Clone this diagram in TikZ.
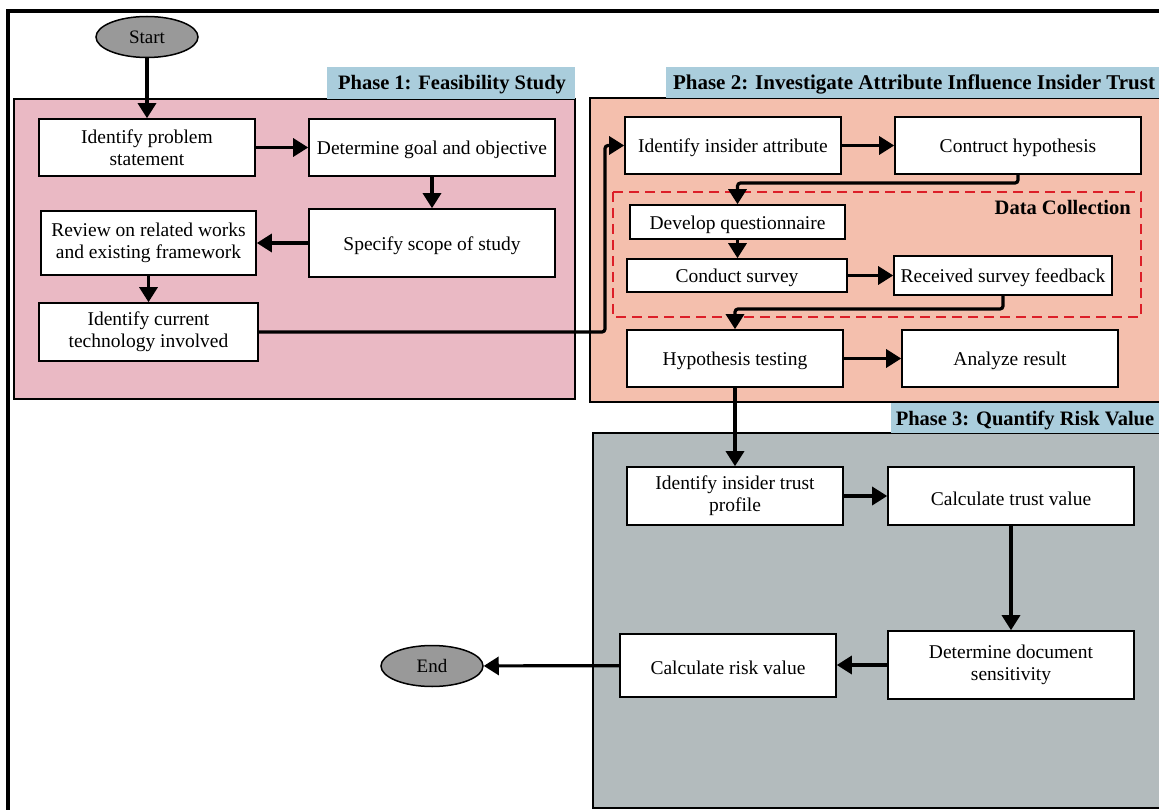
\documentclass[tikz,border=0pt]{standalone}
\usepackage{fontspec}
\setmainfont{Liberation Serif}
\usetikzlibrary{arrows.meta,shapes.geometric}
\definecolor{pinkbg}{RGB}{234,185,196}
\definecolor{salmonbg}{RGB}{244,191,173}
\definecolor{greybg}{RGB}{179,187,189}
\definecolor{hdrblue}{RGB}{170,205,220}
\definecolor{ovalgray}{RGB}{153,153,153}
\definecolor{dashred}{RGB}{220,30,40}
\tikzset{
  box/.style={draw, line width=1.6pt, fill=white, align=center, inner sep=2pt,
    font=\fontsize{19.5}{22}\selectfont,
    execute at begin node={\rule{0pt}{18.5pt}}},
  oval/.style={ellipse, draw, line width=1.5pt, fill=ovalgray, inner sep=0pt,
    minimum width=102, minimum height=41, font=\fontsize{19}{22}\selectfont},
  phasebox/.style={draw, line width=1.2pt},
  hdr/.style={fill=hdrblue, inner sep=0pt},
  hdrtext/.style={font=\bfseries\fontsize{20.5}{22}\selectfont, inner sep=0pt},
  arr/.style={line width=3.2pt, -{Triangle[length=15pt,width=18pt]}},
  dcbox/.style={draw=dashred, line width=1.6pt, dash pattern=on 10pt off 6pt}
}
\begin{document}
\begin{tikzpicture}[x=1pt,y=-1pt]
\useasboundingbox (0,0) rectangle (1159,810);
% outer frame
\draw[line width=4pt] (1175,11) -- (8,11) -- (8,830);
% phase backgrounds
\draw[phasebox, fill=pinkbg] (14,99) rectangle (575,399);
\fill[hdr] (327,67) rectangle (575,99);
\node[hdrtext] (h1) at (452,84.5) {Phase 1: Feasibility Study};
\draw[phasebox, fill=salmonbg] (590,98) rectangle (1175,402);
\fill[hdr] (666,67) rectangle (1175,98);
\node[hdrtext, font=\bfseries\fontsize{21}{22}\selectfont] (h2) at (914,84) {Phase 2: Investigate Attribute Influence Insider Trust};
\draw[phasebox, fill=greybg] (593,433) rectangle (1175,808);
\fill[hdr] (891,403) rectangle (1175,433);
\node[hdrtext] (h3) at (1025,420) {Phase 3: Quantify Risk Value};
% data collection group
\draw[dcbox] (613,192) rectangle (1141,317);
\node[hdrtext, anchor=east] (dclabel) at (1131,207) {Data Collection};
% terminals
\node[oval] (start) at (147,37) {Start};
\node[oval] (end) at (432,666) {End};
% phase 1 nodes
\node[box, minimum width=216, minimum height=57] (ips) at (147,147.5) {Identify problem\\statement};
\node[box, minimum width=246, minimum height=57] (dgo) at (432,147.5) {Determine goal and objective};
\node[box, minimum width=246, minimum height=68] (sss) at (432,243) {Specify scope of study};
\node[box, minimum width=215, minimum height=64] (rrw) at (148.5,243) {Review on related works\\and existing framework};
\node[box, minimum width=219, minimum height=58] (ict) at (148.5,332) {Identify current\\technology involved};
% phase 2 nodes
\node[box, minimum width=216, minimum height=57] (iia) at (733,145.5) {Identify insider attribute};
\node[box, minimum width=246, minimum height=57] (ch) at (1018,145.5) {Contruct hypothesis};
\node[box, minimum width=215, minimum height=34] (dq) at (737.5,222) {Develop questionnaire};
\node[box, minimum width=220, minimum height=33] (cs) at (737,275.5) {Conduct survey};
\node[box, minimum width=218, minimum height=39, inner sep=1pt] (rsf) at (1003,275.5) {Received survey feedback};
\node[box, minimum width=216, minimum height=57] (ht) at (735,358.5) {Hypothesis testing};
\node[box, minimum width=216, minimum height=57] (ar) at (1010,358.5) {Analyze result};
% phase 3 nodes
\node[box, minimum width=216, minimum height=58] (itp) at (735,496) {Identify insider trust\\profile};
\node[box, minimum width=246, minimum height=58] (ctv) at (1011,496) {Calculate trust value};
\node[box, minimum width=246, minimum height=68] (dds) at (1011,665) {Determine document\\sensitivity};
\node[box, minimum width=216, minimum height=63] (crv) at (728,665.5) {Calculate risk value};
% routing coordinates
\coordinate (c1) at (605,0);
\coordinate (c2) at (0,183);
\coordinate (c3) at (0,309);
% connectors
\draw[arr] (start) -- (ips);
\draw[arr] (ips) -- (dgo);
\draw[arr] (dgo) -- (sss);
\draw[arr] (sss) -- (rrw);
\draw[arr] (rrw) -- (ict);
\draw[arr, rounded corners=3pt] (ict.east) -- (ict.east -| c1) |- (iia.west);
\draw[arr] (iia) -- (ch);
\draw[arr, rounded corners=3pt] (ch.south) -- (ch.south |- c2) -| (dq.north);
\draw[arr] (dq.south) -- (dq.south |- cs.north);
\draw[arr] (cs) -- (rsf);
\draw[arr, rounded corners=3pt] (rsf.south) -- (rsf.south |- c3) -| (ht.north);
\draw[arr] (ht) -- (ar);
\draw[arr] (ht.south) -- (itp.north);
\draw[arr] (itp) -- (ctv);
\draw[arr] (ctv) -- (dds);
\draw[arr] (dds.west) -- (dds.west -| crv.east);
\draw[arr] (crv) -- (end);
\end{tikzpicture}
\end{document}
